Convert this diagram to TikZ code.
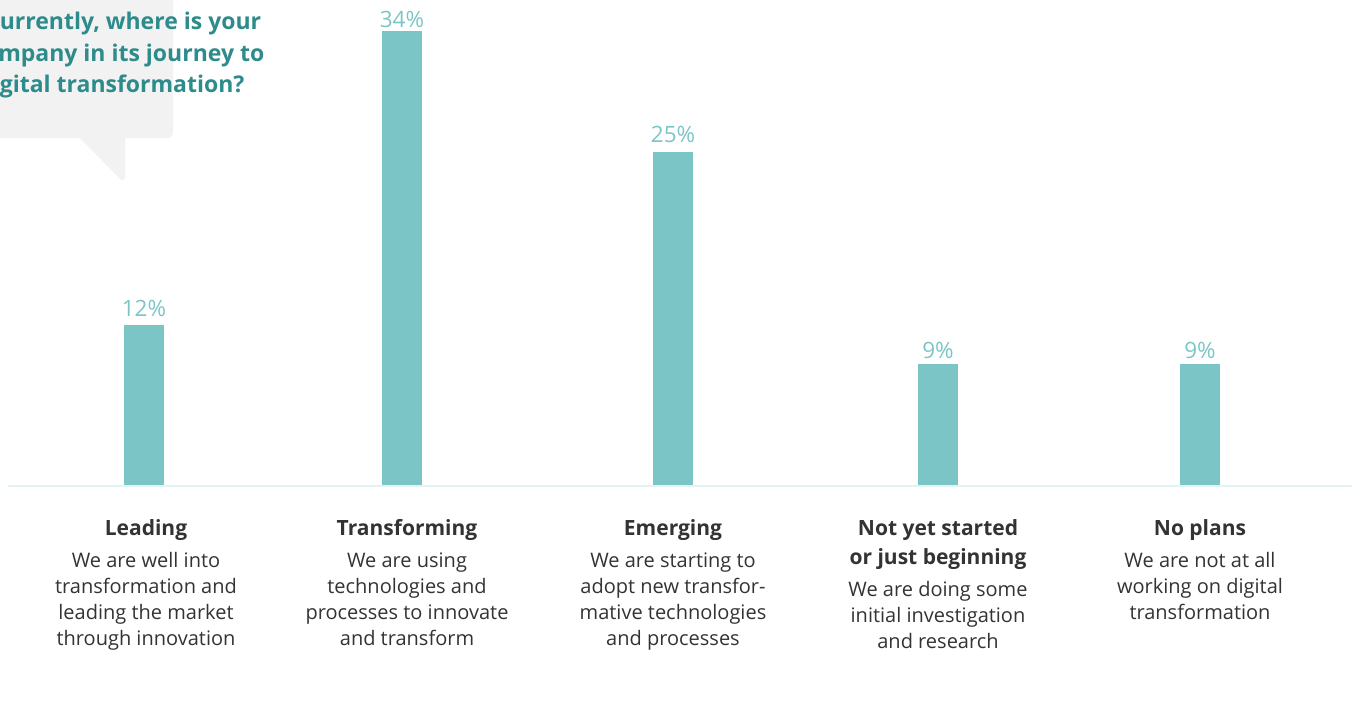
\documentclass[tikz,border=0pt]{standalone}
\usepackage{fontspec}
\setmainfont{Open Sans}
\usepackage{tikz}
\usetikzlibrary{positioning}
\definecolor{barteal}{HTML}{7CC5C6}
\definecolor{titleteal}{HTML}{2E8B8B}
\definecolor{bubblegrey}{HTML}{F2F2F2}
\definecolor{axisline}{HTML}{E2F3F3}
\definecolor{textgrey}{HTML}{333333}

\begin{document}
\begin{tikzpicture}[x=1pt,y=-1pt,
        bar/.style={fill=barteal},
        pct/.style={text=barteal,font=\fontsize{22.5}{22.5}\selectfont,anchor=base,inner sep=0pt},
        quest/.style={text=titleteal,font=\fontsize{23}{23}\selectfont\bfseries,anchor=base west,inner sep=0pt},
        head/.style={text=textgrey,font=\fontsize{21}{29}\selectfont\bfseries,align=center,anchor=base,inner sep=0pt},
        desc/.style={text=textgrey,font=\fontsize{20}{26}\selectfont,align=center,inner sep=0pt}]
        \pgfmathsetmacro{\Base}{486}
        \useasboundingbox (0,0) rectangle (1354,704);
        \clip (0,0) rectangle (1354,704);

% speech bubble
\fill[bubblegrey,rounded corners=6pt] (-30,-30) rectangle (173,138);
\fill[bubblegrey] (78,136) [rounded corners=8pt] -- (125,184) [sharp corners] -- (125,136) -- cycle;
\node[quest] (question-1) at (-15,29) {Currently, where is your};
\node[quest] (question-2) at (-28,61) {company in its journey to};
\node[quest] (question-3) at (-22,92.5) {digital transformation?};

\draw[axisline,line width=2pt] (8,\Base)--(1352,\Base);

% bars
\fill[bar] (124,\Base-1) rectangle (164,325);
\fill[bar] (382,\Base-1) rectangle (422,31);
\fill[bar] (653,\Base-1) rectangle (693,152);
\fill[bar] (918,\Base-1) rectangle (958,364);
\fill[bar] (1180,\Base-1) rectangle (1220,364);

\node[pct] (lead-pct) at (144,316) {12\%};
\node[pct] (trans-pct) at (402,27.5) {34\%};
\node[pct] (emerg-pct) at (673,142.5) {25\%};
\node[pct] (notyet-pct) at (938,358) {9\%};
\node[pct] (noplan-pct) at (1200,358) {9\%};

% categories
\node[head] (lead) at (146,535) {Leading};
\node[desc,below=12pt of lead] (lead-d) {We are well into\\transformation and\\leading the market\\through innovation};
\node[head] (trans) at (407,535) {Transforming};
\node[desc,below=12pt of trans] (trans-d) {We are using\\technologies and\\processes to innovate\\and transform};
\node[head] (emerg) at (673,535) {Emerging};
\node[desc,below=12pt of emerg] (emerg-d) {We are starting to\\adopt new transfor-\\mative technologies\\and processes};
\node[head] (notyet) at (938,564) {Not yet started\\or just beginning};
\node[desc,below=12pt of notyet] (notyet-d) {We are doing some\\initial investigation\\and research};
\node[head] (noplan) at (1200,535) {No plans};
\node[desc,below=12pt of noplan] (noplan-d) {We are not at all\\working on digital\\transformation};
\end{tikzpicture}
\end{document}
